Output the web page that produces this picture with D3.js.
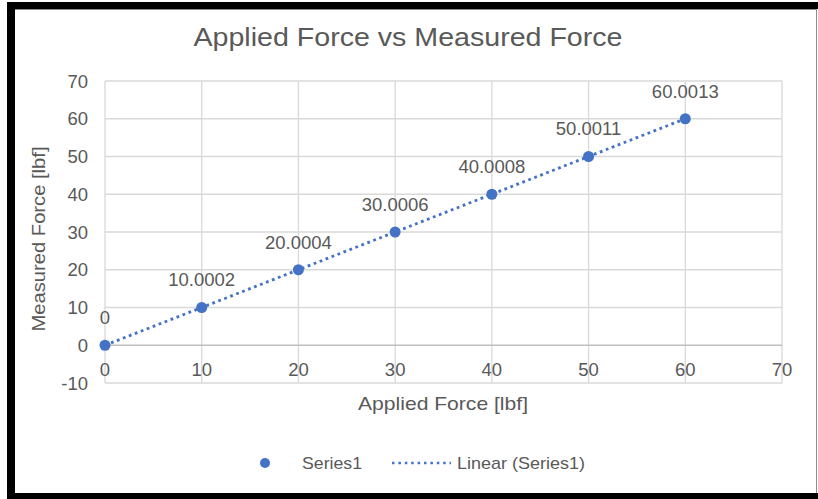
<!DOCTYPE html>
<html>
<head>
<meta charset="utf-8">
<script src="https://cdn.jsdelivr.net/npm/d3@7"></script>
<style>
  html, body { margin: 0; padding: 0; background: #fff; }
  svg { display: block; }
  text { font-family: 'Liberation Sans', Arial, sans-serif; fill: #595959; }
</style>
</head>
<body>
<svg id="chart" width="818" height="499"></svg>
<script>
// Chart data
const applied = [0, 10, 20, 30, 40, 50, 60];
const measured = [0, 10.0002, 20.0004, 30.0006, 40.0008, 50.0011, 60.0013];
const pointLabels = ['0', '10.0002', '20.0004', '30.0006', '40.0008', '50.0011', '60.0013'];
const xTicks = [0, 10, 20, 30, 40, 50, 60, 70];
const yTicks = [-10, 0, 10, 20, 30, 40, 50, 60, 70];

const blue = '#4472c4';
const grid = '#d9d9d9';

const svg = d3.select('#chart');

// frame (screenshot border)
svg.append('rect').attr('x', 7).attr('y', 2).attr('width', 8).attr('height', 497).attr('fill', '#000');
svg.append('rect').attr('x', 7).attr('y', 2).attr('width', 811).attr('height', 7).attr('fill', '#000');
svg.append('rect').attr('x', 7).attr('y', 493).attr('width', 811).attr('height', 6).attr('fill', '#000');
svg.append('line').attr('x1', 15).attr('x2', 816).attr('y1', 9.5).attr('y2', 9.5).attr('stroke', '#8c8c8c');
svg.append('line').attr('x1', 816.5).attr('x2', 816.5).attr('y1', 9).attr('y2', 493).attr('stroke', '#8c8c8c');

const x = d3.scaleLinear().domain([0, 70]).range([105, 782]);
const y = d3.scaleLinear().domain([-10, 70]).range([383, 81]);

// gridlines
const g = svg.append('g');
g.selectAll('line.v').data(xTicks).join('line')
  .attr('x1', d => x(d)).attr('x2', d => x(d))
  .attr('y1', y(70)).attr('y2', y(-10))
  .attr('stroke', grid).attr('stroke-width', 1.3);
g.selectAll('line.h').data(yTicks).join('line')
  .attr('x1', x(0)).attr('x2', x(70))
  .attr('y1', d => y(d)).attr('y2', d => y(d))
  .attr('stroke', d => d === 0 ? '#bfbfbf' : grid).attr('stroke-width', 1.3);

// y tick labels
svg.append('g').selectAll('text').data(yTicks).join('text')
  .attr('x', 88).attr('y', d => y(d) + 6.5)
  .attr('text-anchor', 'end').attr('font-size', 18.5)
  .text(d => d);

// x tick labels, sitting next to the axis at y = 0
svg.append('g').selectAll('text').data(xTicks).join('text')
  .attr('x', d => x(d)).attr('y', y(0) + 31)
  .attr('text-anchor', 'middle').attr('font-size', 18.5)
  .text(d => d);

// trendline (least squares)
const mx = d3.mean(applied), my = d3.mean(measured);
const slope = d3.sum(applied, (d, i) => (d - mx) * (measured[i] - my)) / d3.sum(applied, d => (d - mx) ** 2);
const icpt = my - slope * mx;
const xr = d3.extent(applied);
svg.append('line')
  .attr('x1', x(xr[0])).attr('y1', y(icpt + slope * xr[0]))
  .attr('x2', x(xr[1])).attr('y2', y(icpt + slope * xr[1]))
  .attr('stroke', blue).attr('stroke-width', 2.8)
  .attr('stroke-dasharray', '2.8,3.6');

// points
svg.append('g').selectAll('circle').data(applied).join('circle')
  .attr('cx', d => x(d)).attr('cy', (d, i) => y(measured[i]))
  .attr('r', 5.5).attr('fill', blue);

// data labels
svg.append('g').selectAll('text').data(applied).join('text')
  .attr('x', d => x(d)).attr('y', (d, i) => y(measured[i]) - 21)
  .attr('text-anchor', 'middle').attr('font-size', 18.5)
  .text((d, i) => pointLabels[i]);

// titles
svg.append('text').attr('x', 408).attr('y', 46)
  .attr('text-anchor', 'middle').attr('font-size', 25)
  .attr('textLength', 429).attr('lengthAdjust', 'spacingAndGlyphs')
  .text('Applied Force vs Measured Force');

svg.append('text').attr('x', 443).attr('y', 410)
  .attr('text-anchor', 'middle').attr('font-size', 18.5)
  .attr('textLength', 170).attr('lengthAdjust', 'spacingAndGlyphs')
  .text('Applied Force [lbf]');

svg.append('text')
  .attr('transform', 'translate(45,239) rotate(-90)')
  .attr('text-anchor', 'middle').attr('font-size', 18.5)
  .attr('textLength', 185).attr('lengthAdjust', 'spacingAndGlyphs')
  .text('Measured Force [lbf]');

// legend
svg.append('circle').attr('cx', 265).attr('cy', 463).attr('r', 5).attr('fill', blue);
svg.append('text').attr('x', 302).attr('y', 469).attr('font-size', 17)
  .attr('textLength', 60).attr('lengthAdjust', 'spacingAndGlyphs').text('Series1');
svg.append('line').attr('x1', 392).attr('x2', 451).attr('y1', 463).attr('y2', 463)
  .attr('stroke', blue).attr('stroke-width', 2.5).attr('stroke-dasharray', '2.5,3.9');
svg.append('text').attr('x', 457).attr('y', 469).attr('font-size', 17)
  .attr('textLength', 128).attr('lengthAdjust', 'spacingAndGlyphs').text('Linear (Series1)');
</script>
</body>
</html>
